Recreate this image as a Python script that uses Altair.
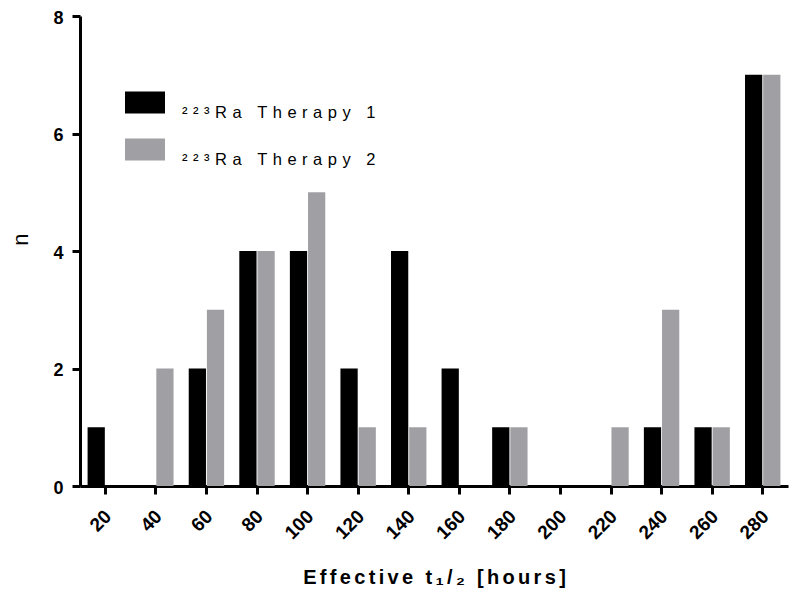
import altair as alt
import pandas as pd

categories = ["20", "40", "60", "80", "100", "120", "140", "160", "180", "200", "220", "240", "260", "280"]
therapy1 = [1, 0, 2, 4, 4, 2, 4, 2, 1, 0, 0, 1, 1, 7]
therapy2 = [0, 2, 3, 4, 5, 1, 1, 0, 1, 0, 1, 3, 1, 7]
series_names = ["\u00b2\u00b2\u00b3Ra Therapy 1", "\u00b2\u00b2\u00b3Ra Therapy 2"]
series_colors = ["#000000", "#a0a0a4"]
x_title = "Effective t\u2081/\u2082 [hours]"
y_title = "n"
y_ticks = [0, 2, 4, 6, 8]

rows = []
for c, a, b in zip(categories, therapy1, therapy2):
    rows.append({"cat": c, "series": series_names[0], "n": a})
    rows.append({"cat": c, "series": series_names[1], "n": b})
df = pd.DataFrame(rows)

spaced_title = "\u2006".join(x_title)
FONT = "Liberation Sans"

chart = alt.Chart(df).mark_bar().encode(
    x=alt.X("cat:N", sort=categories,
            scale=alt.Scale(paddingInner=0.3, paddingOuter=0.15),
            axis=alt.Axis(title=spaced_title, labelAngle=-45, labelAlign="right",
                          labelBaseline="middle", labelPadding=19, labelOffset=3,
                          labelFontSize=19,
                          titleFontSize=20, titleFontWeight="bold", titleY=97,
                          titleBaseline="alphabetic")),
    xOffset=alt.XOffset("series:N", sort=series_names,
                        scale=alt.Scale(paddingInner=0.05)),
    y=alt.Y("n:Q", scale=alt.Scale(domain=[0, 8], nice=False),
            axis=alt.Axis(title=y_title, values=y_ticks, labelPadding=9,
                          labelFontSize=18, labelOffset=2,
                          titleFontSize=22, titleFontWeight="normal",
                          titleX=-60, titleY=223, titleAlign="center",
                          titleBaseline="middle")),
    color=alt.Color("series:N", sort=series_names,
                    scale=alt.Scale(domain=series_names, range=series_colors),
                    legend=alt.Legend(title=None, orient="none", legendX=45, legendY=77,
                                      padding=0,
                                      symbolType="M-1,-1.075L1,-1.075L1,0.025L-1,0.025Z",
                                      symbolSize=1600, symbolStrokeWidth=0,
                                      labelFont=FONT, labelFontSize=16.5,
                                      labelColor="#000000", labelOffset=17,
                                      labelLimit=0, rowPadding=16,
                                      labelExpr="join(split(datum.label, ''), '\u2004')")),
).properties(
    width=708, height=470,
    autosize=alt.AutoSizeParams(type="none"),
    padding={"left": 72, "top": 8, "right": 4, "bottom": 110},
).configure_view(
    stroke=None
).configure_axis(
    domainColor="#000000", domainWidth=3, tickColor="#000000", tickWidth=3,
    tickSize=8, grid=False, labelFont=FONT, labelFontWeight="bold",
    labelColor="#000000", titleFont=FONT, titleColor="#000000",
)

chart.save("out.html", embed_options={"renderer": "svg", "actions": False})
